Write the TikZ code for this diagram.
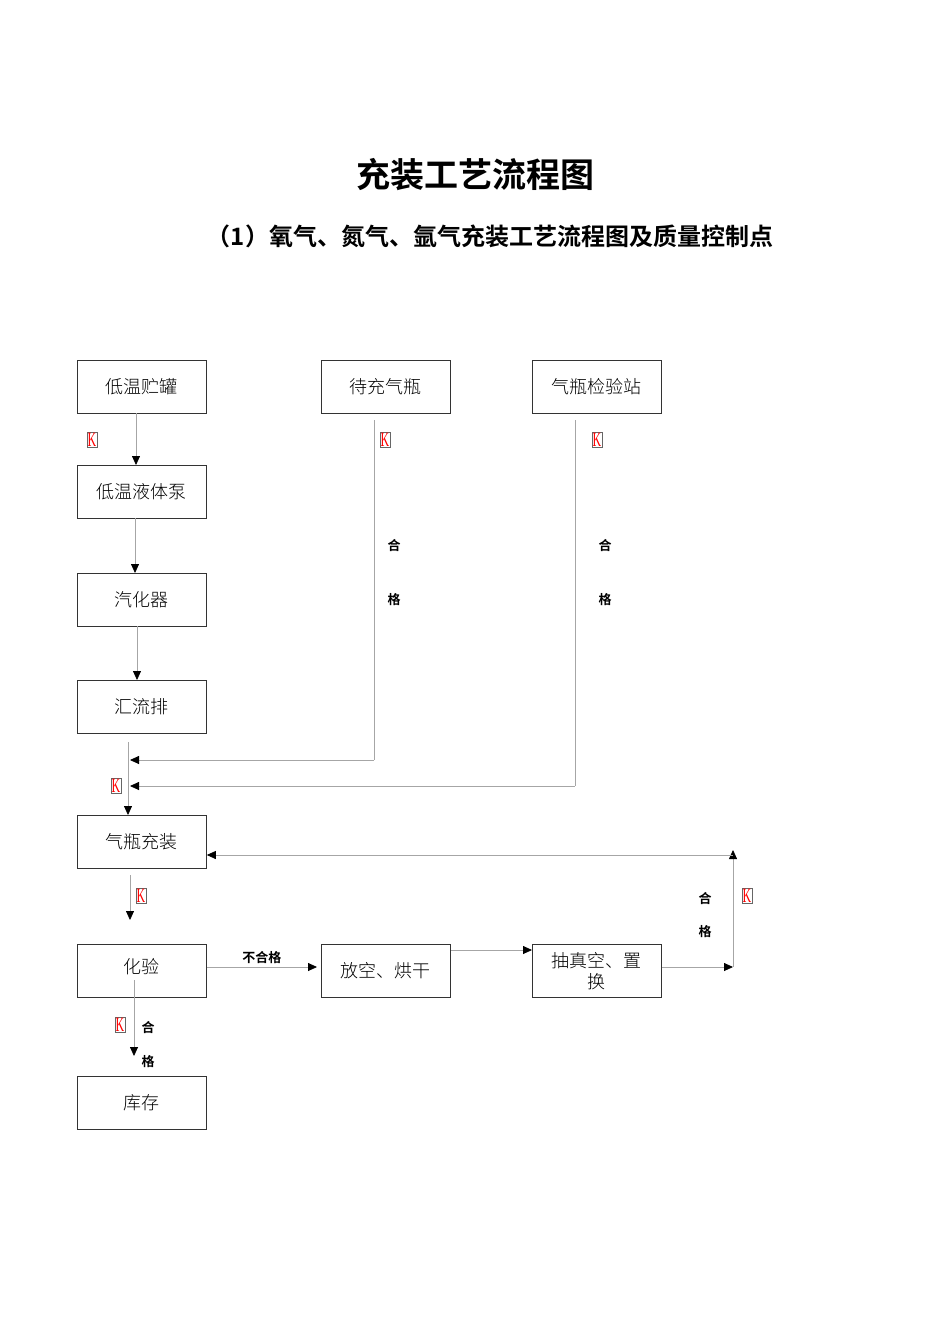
\documentclass[tikz,border=0pt]{standalone}
\usepackage{fontspec}
\newfontfamily\cjk{Noto Sans CJK SC}
\newfontfamily\cjkl{Noto Sans CJK SC Light}
\newfontfamily\cjkb{Noto Sans CJK SC Bold}
\newfontfamily\kfont{Liberation Serif}
\usetikzlibrary{arrows.meta}
\begin{document}
\begin{tikzpicture}[x=1pt,y=-1pt,
 box/.style={draw=black!80,line width=0.8pt,minimum width=129pt,minimum height=53pt,anchor=north west,inner sep=0pt,font=\cjkl\fontsize{18}{21}\selectfont,align=center},
 ln/.style={draw=black!35,line width=0.8pt},
 ar/.style={ln,-{Triangle[length=9pt,width=8pt,fill=black,color=black]}},
 kk/.style={draw=black!60,line width=0.8pt,inner sep=0.8pt,text=red},
 hg/.style={font=\cjkb\fontsize{13}{15}\selectfont}]
\useasboundingbox (0,0) rectangle (950,1344);
\node[font=\cjkb\fontsize{34}{40}\selectfont] (t1) at (475,175) {充装工艺流程图};
\node[font=\cjkb\fontsize{24}{28}\selectfont] (t2) at (490,236) {（1）氧气、氮气、氩气充装工艺流程图及质量控制点};
\node[box] (a) at (77,360) {低温贮罐};
\node[box] (b) at (321,360) {待充气瓶};
\node[box] (c) at (532,360) {气瓶检验站};
\node[box] (d) at (77,465) {低温液体泵};
\node[box] (e) at (77,573) {汽化器};
\node[box] (f) at (77,680) {汇流排};
\node[box] (g) at (77,815) {气瓶充装};
\node[box,align=center] (h) at (77,944) {\raisebox{10pt}{化验}};
\node[box] (i) at (321,944) {放空、烘干};
\node[box] (j) at (532,944) {抽真空、置\\换};
\node[box] (k) at (77,1076) {库存};
\coordinate (p1) at (374,760); \coordinate (p2) at (575,786);
\coordinate (q1) at (733,967); \coordinate (q2) at (733,855);
\draw[ar] (136,413) -- (136,465);
\draw[ar] (135,518) -- (135,573);
\draw[ar] (137,626) -- (137,680);
\draw[ar] (128,742) -- (128,815);
\draw[ln] (374,420) -- (p1);
\draw[ar] (p1) -- (130,760);
\draw[ln] (575,420) -- (p2);
\draw[ar] (p2) -- (130,786);
\draw[ar] (130,875) -- (130,920);
\draw[ar] (h.east |- 0,967) -- (317,967) node[midway,above,hg,text=black] {不合格};
\draw[ar] (i.east |- 0,950) -- (j.west |- 0,950);
\draw[ar] (j.east |- 0,967) -- (q1);
\draw[ar] (733,967) -- (733,850);
\draw[ar] (q2) -- (g.east |- 0,855);
\draw[ar] (134,980) -- (134,1056);
\foreach \x/\y in {92/440,385/440,597/440,116/786,141/896,747/896,120/1025}
 \node[kk] at (\x,\y) {\kfont\fontsize{14}{14}\selectfont\scalebox{0.85}[1.45]{K}};
\foreach \x/\y/\z in {394/546/600,605/546/600,705/899/932,148/1028/1062}{
 \node[hg] at (\x,\y) {合}; \node[hg] at (\x,\z) {格};}
\end{tikzpicture}
\end{document}
